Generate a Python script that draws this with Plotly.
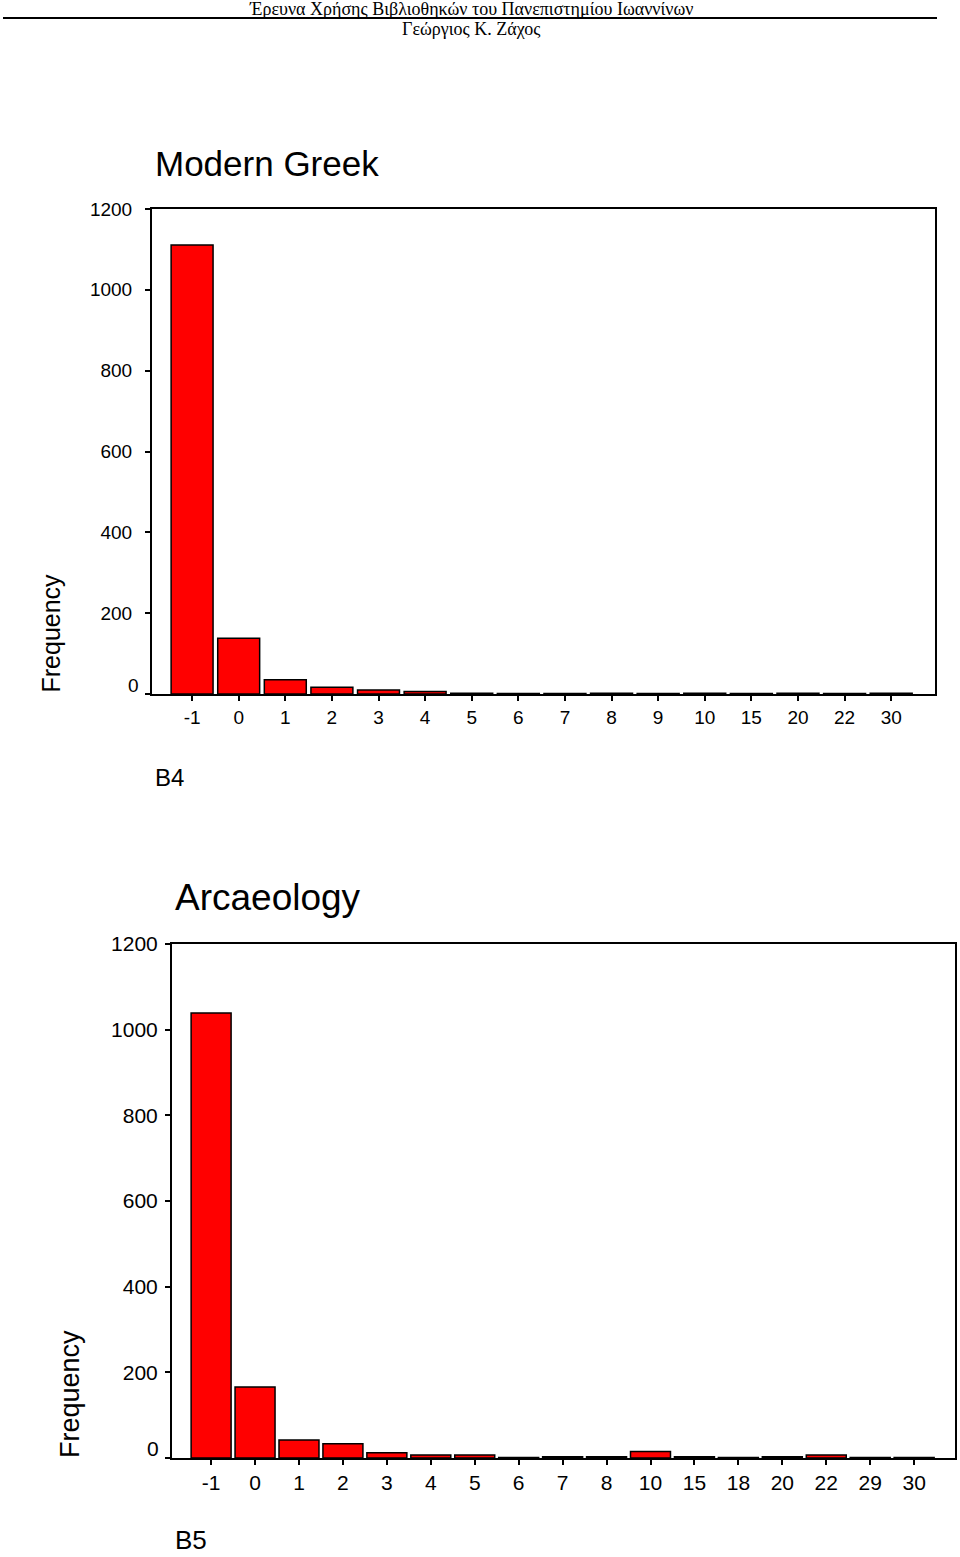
import plotly.graph_objects as go

# Data
cats_b4 = ["-1", "0", "1", "2", "3", "4", "5", "6", "7", "8", "9", "10", "15", "20", "22", "30"]
freq_b4 = [1111, 138, 35, 17, 10, 6, 2, 1, 1, 2, 1, 2, 1, 2, 1, 2]

cats_b5 = ["-1", "0", "1", "2", "3", "4", "5", "6", "7", "8", "10", "15", "18", "20", "22", "29", "30"]
freq_b5 = [1039, 166, 42, 33, 12, 7, 7, 1, 3, 3, 15, 3, 1, 3, 7, 1, 1]

yticks = [0, 200, 400, 600, 800, 1000, 1200]
ytick_text = ["", "200", "400", "600", "800", "1000", "1200"]

W, H = 960, 1557

def px_x(x):
    return x / W

def px_y(y):
    return 1 - y / H

fig = go.Figure()

fig.add_trace(go.Bar(x=cats_b4, y=freq_b4, xaxis="x", yaxis="y",
                     marker=dict(color="#FF0000", line=dict(color="black", width=1.5)),
                     width=0.9, showlegend=False))
fig.add_trace(go.Bar(x=cats_b5, y=freq_b5, xaxis="x2", yaxis="y2",
                     marker=dict(color="#FF0000", line=dict(color="black", width=1.5)),
                     width=0.91, showlegend=False))

axis_common = dict(showline=True, linecolor="black", linewidth=2, mirror=True,
                   ticks="outside", tickcolor="black", ticklen=5, tickwidth=1.5,
                   showgrid=False, zeroline=False, automargin=False)

fig.update_layout(
    width=W, height=H,
    margin=dict(l=0, r=0, t=0, b=0, pad=0, autoexpand=False),
    paper_bgcolor="white", plot_bgcolor="white",
    font=dict(family="Arial, Liberation Sans, sans-serif", color="black"),
    xaxis=dict(domain=[px_x(152), px_x(935)], anchor="y", type="category",
               range=[-0.86, 15.94], tickfont=dict(size=19), **axis_common),
    yaxis=dict(domain=[px_y(694), px_y(209)], anchor="x", range=[0, 1200],
               tickvals=yticks, ticktext=ytick_text, tickfont=dict(size=19),
               ticklabelstandoff=9, **axis_common),
    xaxis2=dict(domain=[px_x(172), px_x(955)], anchor="y2", type="category",
                range=[-0.89, 16.93], tickfont=dict(size=21), **axis_common),
    yaxis2=dict(domain=[px_y(1458), px_y(944)], anchor="x2", range=[0, 1200],
                tickvals=yticks, ticktext=ytick_text, tickfont=dict(size=21),
                ticklabelstandoff=3, **axis_common),
)

ann = []
# Header
ann.append(dict(text="Έρευνα Χρήσης Βιβλιοθηκών του Πανεπιστημίου Ιωαννίνων",
                x=px_x(471), y=px_y(9.5), xref="paper", yref="paper", showarrow=False,
                xanchor="center", yanchor="middle",
                font=dict(family="Liberation Serif, Times New Roman, serif", size=18)))
ann.append(dict(text="Γεώργιος Κ. Ζάχος",
                x=px_x(471), y=px_y(29), xref="paper", yref="paper", showarrow=False,
                xanchor="center", yanchor="middle",
                font=dict(family="Liberation Serif, Times New Roman, serif", size=18)))
# Chart 1 labels
ann.append(dict(text="Modern Greek", x=px_x(153), y=px_y(163), xref="paper", yref="paper",
                showarrow=False, xanchor="left", yanchor="middle", font=dict(size=35)))
ann.append(dict(text="Frequency", x=px_x(50), y=px_y(695), xref="paper", yref="paper",
                showarrow=False, xanchor="center", yanchor="bottom", textangle=-90,
                font=dict(size=25)))
ann.append(dict(text="B4", x=px_x(153), y=px_y(777), xref="paper", yref="paper",
                showarrow=False, xanchor="left", yanchor="middle", font=dict(size=24)))
ann.append(dict(text="0", x=px_x(141), y=px_y(686), xref="paper", yref="paper",
                showarrow=False, xanchor="right", yanchor="middle", font=dict(size=19)))
# Chart 2 labels
ann.append(dict(text="Arcaeology", x=px_x(173), y=px_y(897), xref="paper", yref="paper",
                showarrow=False, xanchor="left", yanchor="middle", font=dict(size=37)))
ann.append(dict(text="Frequency", x=px_x(70), y=px_y(1460), xref="paper", yref="paper",
                showarrow=False, xanchor="center", yanchor="bottom", textangle=-90,
                font=dict(size=27)))
ann.append(dict(text="B5", x=px_x(173), y=0.0, xref="paper", yref="paper",
                showarrow=False, xanchor="left", yanchor="bottom", font=dict(size=26)))
ann.append(dict(text="0", x=px_x(161), y=px_y(1448), xref="paper", yref="paper",
                showarrow=False, xanchor="right", yanchor="middle", font=dict(size=21)))

fig.update_layout(annotations=ann)

fig.add_shape(type="line", xref="paper", yref="paper",
              x0=px_x(3), x1=px_x(937), y0=px_y(18), y1=px_y(18),
              line=dict(color="black", width=2))

fig.write_html("out.html")
